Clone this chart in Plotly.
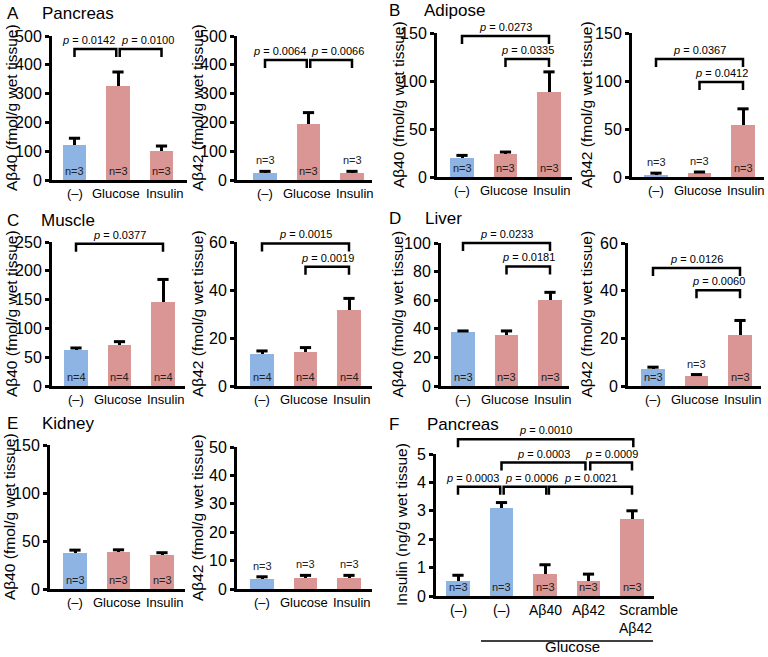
import plotly.graph_objects as go

FONT = "Arial, Liberation Sans, sans-serif"
BLUE = "#8db4e2"
PINK = "#da9694"
W, H = 768, 657
SPACING = 43.5   # px between bar centres
BAR_W = 0.53
DROP = 8         # bracket leg length, px

# ---- data ----
treat_labels = ["(–)", "Glucose", "Insulin"]
insulin_labels = ["(–)", "(–)", "Aβ40", "Aβ42", "Scramble<br>Aβ42"]

pancreas_ab40 = [120, 326, 101]
pancreas_ab40_err = [25, 49, 17]
pancreas_ab42 = [23, 196, 23]
pancreas_ab42_err = [7, 38, 7]

adipose_ab40 = [20, 23.5, 88.5]
adipose_ab40_err = [2.5, 2.5, 21]
adipose_ab42 = [2.5, 4, 54]
adipose_ab42_err = [1.5, 1.2, 17]

muscle_ab40 = [63, 72, 145]
muscle_ab40_err = [3, 5, 40]
muscle_ab42 = [13.2, 14, 31.7]
muscle_ab42_err = [1.4, 2, 4.8]

liver_ab40 = [37.5, 36, 60]
liver_ab40_err = [1, 2.5, 5.5]
liver_ab42 = [7, 4, 21.3]
liver_ab42_err = [0.9, 0.8, 6.2]

kidney_ab40 = [38, 38.5, 35.5]
kidney_ab40_err = [2.5, 2.3, 2.3]
kidney_ab42 = [3.6, 4, 4]
kidney_ab42_err = [0.7, 0.8, 0.8]

insulin_vals = [0.53, 3.11, 0.77, 0.53, 2.7]
insulin_err = [0.2, 0.18, 0.33, 0.24, 0.3]

n_three = [3, 3, 3]
n_four = [4, 4, 4]
n_five = [3, 3, 3, 3, 3]

AB40 = "Aβ40 (fmol/g wet tissue)"
AB42 = "Aβ42 (fmol/g wet tissue)"

# small horizontal nudges (px) of the category labels, as in the original artwork
treat_nudge = [0, -2, 3]
insulin_nudge = [0, 0, 0, 0, -15]
insulin_anchor = ["center", "center", "center", "center", "left"]

# box = (x_left, x_right, y_top, y_bottom, first bar centre) in px
panels = [
    dict(vals=pancreas_ab40, errs=pancreas_ab40_err, ymax=500, dtick=100,
         box=(52, 187, 36, 180, 74.5), n=n_three, npos="iii", ytitle=AB40, tx=11,
         brackets=[(0, 0.96, 455, "0.0142", "right"), (1.04, 2, 455, "0.0100", "left")]),
    dict(vals=pancreas_ab42, errs=pancreas_ab42_err, ymax=500, dtick=100,
         box=(237, 372, 36, 180, 265), n=n_three, npos="oio", ytitle=AB42, tx=197,
         brackets=[(0, 0.96, 417, "0.0064", "right"), (1.04, 2, 417, "0.0066", "left")]),
    dict(vals=adipose_ab40, errs=adipose_ab40_err, ymax=150, dtick=50,
         box=(437, 572, 33, 177, 462), n=n_three, npos="iii", ytitle=AB40, tx=398,
         brackets=[(0, 2, 147, "0.0273", "center"), (1, 2, 123, "0.0335", "center")]),
    dict(vals=adipose_ab42, errs=adipose_ab42_err, ymax=150, dtick=50,
         box=(632, 764, 33, 177, 656), n=n_three, npos="ooi", ytitle=AB42, tx=586,
         brackets=[(0, 2, 123, "0.0367", "center"), (1, 2, 99, "0.0412", "center")]),
    dict(vals=muscle_ab40, errs=muscle_ab40_err, ymax=250, dtick=50,
         box=(52, 185, 242, 386, 76), n=n_four, npos="iii", ytitle=AB40, tx=11,
         brackets=[(0, 2, 247, "0.0377", "center")]),
    dict(vals=muscle_ab42, errs=muscle_ab42_err, ymax=60, dtick=20,
         box=(237, 372, 242, 386, 262), n=n_four, npos="iii", ytitle=AB42, tx=197,
         brackets=[(0, 2, 59.4, "0.0015", "center"), (1, 2, 49.7, "0.0019", "center")]),
    dict(vals=liver_ab40, errs=liver_ab40_err, ymax=100, dtick=20,
         box=(441, 569, 243, 386, 463), n=n_three, npos="iii", ytitle=AB40, tx=397,
         brackets=[(0, 2, 100, "0.0233", "center"), (1, 2, 83.6, "0.0181", "center")]),
    dict(vals=liver_ab42, errs=liver_ab42_err, ymax=60, dtick=20,
         box=(628, 761, 243, 386, 653), n=n_three, npos="ioi", ytitle=AB42, tx=586,
         brackets=[(0, 2, 49.5, "0.0126", "center"), (1, 2, 40.2, "0.0060", "center")]),
    dict(vals=kidney_ab40, errs=kidney_ab40_err, ymax=150, dtick=50,
         box=(50, 185, 445, 589, 75), n=n_three, npos="iii", ytitle=AB40, tx=9,
         brackets=[]),
    dict(vals=kidney_ab42, errs=kidney_ab42_err, ymax=50, dtick=10,
         box=(237, 372, 447, 589, 262), n=n_three, npos="ooo", ytitle=AB42, tx=197,
         brackets=[]),
    dict(vals=insulin_vals, errs=insulin_err, ymax=5, dtick=1, labels=insulin_labels,
         nudge=insulin_nudge, anchors=insulin_anchor, box=(436, 654, 454, 596, 458),
         n=n_five, npos="iiiii", ytitle="Insulin (ng/g wet tissue)", tx=401, blue=2,
         brackets=[(0, 4.03, 5.52, "0.0010", "center"), (1, 2.93, 4.7, "0.0003", "center"),
                   (3.04, 4, 4.7, "0.0009", "center"), (0, 0.97, 3.85, "0.0003", "right"),
                   (1.05, 2.03, 3.85, "0.0006", "left"), (2.09, 4, 3.85, "0.0021", "center")]),
]

titles = [("A", "Pancreas", 5, 40, 13), ("B", "Adipose", 387, 422, 10),
          ("C", "Muscle", 5, 39, 220), ("D", "Liver", 387, 423, 219),
          ("E", "Kidney", 5, 40, 423), ("F", "Pancreas", 387, 425, 424)]


def px_x(x):
    return x / W


def px_y(y):
    return 1 - y / H


def text_at(text, x, y, size, xanchor="center", yanchor="middle", **kw):
    return dict(text=text, x=px_x(x), y=px_y(y), xref="paper", yref="paper",
                xanchor=xanchor, yanchor=yanchor, showarrow=False,
                font=dict(size=size, color=kw.pop("color", "black")), **kw)


fig = go.Figure()
annotations = []
shapes = []

for i, p in enumerate(panels, start=1):
    x0, x1, yt, yb, c0 = p["box"]
    ymax = p["ymax"]
    labels = p.get("labels", treat_labels)
    nudge = p.get("nudge", treat_nudge)
    nb = len(p["vals"])
    cats = list(range(nb))
    anchors = p.get("anchors", ["center"] * nb)
    colors = [BLUE if k < p.get("blue", 1) else PINK for k in cats]
    tops = [v + e for v, e in zip(p["vals"], p["errs"])]
    sfx = "" if i == 1 else str(i)

    def cx(c):
        return c0 + c * SPACING

    def vy(v):
        return yb - v / ymax * (yb - yt)

    # bars with one-sided (upper) error bars
    fig.add_trace(go.Bar(
        x=cats, y=p["vals"], width=BAR_W, marker=dict(color=colors, line_width=0),
        error_y=dict(type="data", symmetric=False, array=p["errs"], arrayminus=[0] * nb,
                     color="black", thickness=3, width=0),
        xaxis="x" + sfx, yaxis="y" + sfx, hoverinfo="skip"))
    # caps on the error bars
    fig.add_trace(go.Scatter(
        x=cats, y=tops, mode="markers", hoverinfo="skip",
        marker=dict(symbol="line-ew", size=8, line=dict(color="black", width=3)),
        xaxis="x" + sfx, yaxis="y" + sfx, cliponaxis=False))

    fig.layout["xaxis" + sfx] = dict(
        domain=[px_x(x0), px_x(x1)], range=[(x0 - c0) / SPACING, (x1 - c0) / SPACING],
        anchor="y" + sfx, showline=True, linewidth=3, linecolor="black", ticks="",
        showticklabels=False, showgrid=False, zeroline=False, automargin=False)
    fig.layout["yaxis" + sfx] = dict(
        domain=[px_y(yb), px_y(yt)], range=[0, ymax], dtick=p["dtick"], anchor="x" + sfx,
        showline=True, linewidth=3, linecolor="black", ticks="outside", ticklen=4,
        tickwidth=3, tickcolor="black", tickfont=dict(size=16), showgrid=False,
        zeroline=False, automargin=False)

    # category labels
    for k in cats:
        annotations.append(text_at(labels[k], cx(k) + nudge[k], yb + 4, 13 if nb == 3 else 14,
                                   xanchor=anchors[k], yanchor="top", align=anchors[k]))

    # y-axis title
    annotations.append(text_at(p["ytitle"], p["tx"], (yt + yb) / 2, 15.5, textangle=-90))

    # n labels
    for k in cats:
        if p["npos"][k] == "i":
            ypos = yb - 1
        else:
            ypos = vy(tops[k]) - 3
        annotations.append(text_at(f"n={p['n'][k]}", cx(k), ypos, 11, yanchor="bottom",
                                   color="#222"))

    # significance brackets
    for bx0, bx1, lvl, ptxt, align in p["brackets"]:
        ly = vy(lvl)
        pts = [(cx(bx0), ly + DROP), (cx(bx0), ly), (cx(bx1), ly), (cx(bx1), ly + DROP)]
        path = "M " + " L ".join(f"{px_x(a):.5f},{px_y(b):.5f}" for a, b in pts)
        shapes.append(dict(type="path", path=path, xref="paper", yref="paper",
                           line=dict(color="black", width=2.5)))
        if align == "right":
            tx = cx(bx1) + 1
        elif align == "left":
            tx = cx(bx0) - 1
        else:
            tx = (cx(bx0) + cx(bx1)) / 2
        annotations.append(text_at(f"<i>p</i> = {ptxt}", tx, ly - 1, 11, xanchor=align,
                                   yanchor="bottom"))

# panel letters and tissue names
for letter, name, lx, nx, ty in titles:
    annotations.append(text_at(letter, lx, ty, 17, xanchor="left"))
    annotations.append(text_at(name, nx, ty, 17, xanchor="left"))

# glucose group line under panel F
shapes.append(dict(type="line", x0=px_x(481), x1=px_x(653), y0=px_y(641), y1=px_y(641),
                   xref="paper", yref="paper", line=dict(color="black", width=1.5)))
annotations.append(text_at("Glucose", 572, 656.5, 15, yanchor="bottom"))

fig.update_layout(
    width=W, height=H, margin=dict(l=0, r=0, t=0, b=0, autoexpand=False),
    paper_bgcolor="white", plot_bgcolor="white", showlegend=False,
    font=dict(family=FONT, color="black"),
    annotations=annotations, shapes=shapes, bargap=0)

fig.write_html("out.html", config={"displayModeBar": False},
               post_script="document.body.style.margin='0';")
